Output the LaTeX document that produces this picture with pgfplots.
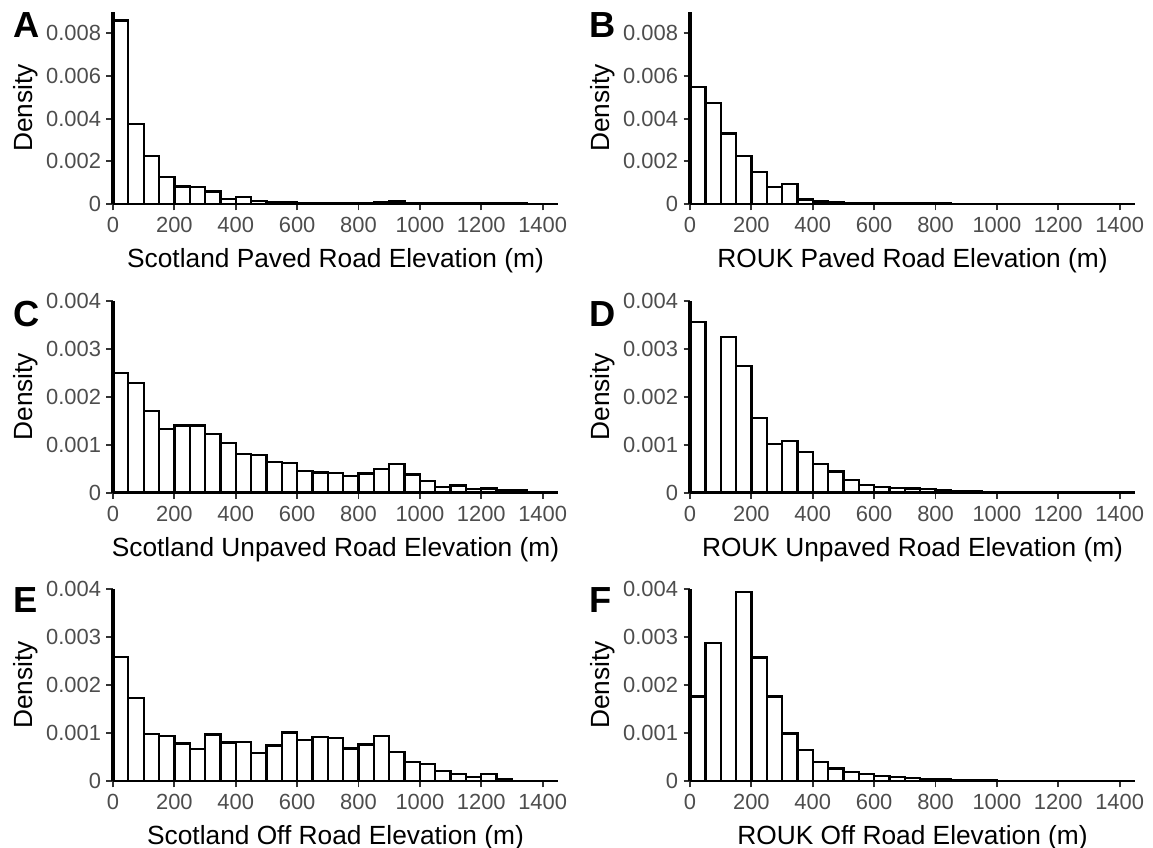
\documentclass[border=0pt]{standalone}
\usepackage{fontspec}
\setmainfont{Liberation Sans}
\usepackage{pgfplots}
\pgfplotsset{compat=1.18}
\definecolor{tickgray}{HTML}{4D4D4D}
\definecolor{tickmark}{HTML}{333333}
\pgfplotsset{
  hist/.style={
    scale only axis, width=445bp, height=192bp,
    xmin=0, xmax=1450, ymin=0,
    axis x line*=bottom, axis y line*=left,
    x axis line style={line width=2.6bp, black},
    y axis line style={line width=3.6bp, black},
    axis on top=true,
    tick align=outside, major tick length=6.5bp,
    every tick/.style={draw=tickmark, line width=1.8bp},
    xtick={0,200,400,600,800,1000,1200,1400},
    xticklabels={0,200,400,600,800,1000,1200,1400},
    ticklabel style={font=\fontsize{22}{25}\selectfont, text=tickgray},
    xticklabel style={yshift=-3bp},
    yticklabel style={xshift=-2bp},
    label style={font=\fontsize{26.4}{30}\selectfont, text=black},
    xlabel shift=9bp,
    ylabel shift=1bp,
    ylabel={Density},
    scaled ticks=false,
    /pgf/number format/assume math mode=true,
    clip=true,
  },
  hist1/.style={hist, ymax=0.009, ytick={0,0.002,0.004,0.006,0.008},
    yticklabels={0,0.002,0.004,0.006,0.008}},
  hist2/.style={hist, ymax=0.004, ytick={0,0.001,0.002,0.003,0.004},
    yticklabels={0,0.001,0.002,0.003,0.004}},
  bars/.style={ybar interval, fill=white, draw=black, line width=2.3bp},
}
\newcommand{\panellabel}[3]{\node[anchor=base west, inner sep=0pt, font=\fontsize{36.4}{40}\selectfont\bfseries] at (#1bp,#2bp) {#3};}
\begin{document}
\begin{tikzpicture}[x=1bp,y=1bp]
\path[use as bounding box] (0,0) rectangle (1153,848);
% A
\begin{axis}[hist1, at={(113bp,644bp)}, anchor=south west, xlabel={Scotland Paved Road Elevation (m)}]
\addplot[bars] coordinates {(0,0.0086) (50,0.00375) (100,0.00225) (150,0.00128) (200,0.00082) (250,0.00080) (300,0.00058) (350,0.00022) (400,0.00033) (450,0.00014) (500,0.00008) (550,0.00007) (600,0.00006) (650,0.00006) (700,0.00005) (750,0.00005) (800,0.00006) (850,0.00008) (900,0.00011) (950,0.00006) (1000,0.00005) (1050,0.00004) (1100,0.00004) (1150,0.00003) (1200,0.00003) (1250,0.00002) (1300,0.00002) (1350,0.00001) (1400,0)};
\end{axis}
% B
\begin{axis}[hist1, at={(690bp,644bp)}, anchor=south west, xlabel={ROUK Paved Road Elevation (m)}]
\addplot[bars] coordinates {(0,0.00547) (50,0.00475) (100,0.00331) (150,0.00225) (200,0.0015) (250,0.00078) (300,0.00094) (350,0.00021) (400,0.00012) (450,0.00009) (500,0.00006) (550,0.00005) (600,0.00004) (650,0.00003) (700,0.00003) (750,0.00002) (800,0.00002) (850,0.00001) (900,0.00001) (950,0.00001) (1000,0.00001) (1050,0.00001) (1100,0.00001) (1150,0.00001) (1200,0.00001) (1250,0.00001) (1300,0.00001) (1350,0.00001) (1400,0)};
\end{axis}
% C
\begin{axis}[hist2, at={(113bp,355.3bp)}, anchor=south west, xlabel={Scotland Unpaved Road Elevation (m)}]
\addplot[bars] coordinates {(0,0.0025) (50,0.00229) (100,0.0017) (150,0.00132) (200,0.0014) (250,0.0014) (300,0.00122) (350,0.00104) (400,0.00081) (450,0.00079) (500,0.00064) (550,0.00062) (600,0.00045) (650,0.00042) (700,0.00041) (750,0.00035) (800,0.0004) (850,0.00049) (900,0.0006) (950,0.00038) (1000,0.00024) (1050,0.000125) (1100,0.00015) (1150,0.00008) (1200,0.00009) (1250,0.00005) (1300,0.000055) (1350,0.000005) (1400,0)};
\end{axis}
% D
\begin{axis}[hist2, at={(690bp,355.3bp)}, anchor=south west, xlabel={ROUK Unpaved Road Elevation (m)}]
\addplot[bars] coordinates {(0,0.00355) (50,0) (100,0.00324) (150,0.00264) (200,0.00155) (250,0.00101) (300,0.00108) (350,0.00085) (400,0.0006) (450,0.00044) (500,0.00026) (550,0.00016) (600,0.00012) (650,0.0001) (700,0.00009) (750,0.00007) (800,0.00005) (850,0.000035) (900,0.00003) (950,0.00002) (1000,0.000015) (1050,0.00001) (1100,0.000005) (1150,0.000005) (1200,0.000005) (1250,0.000005) (1300,0.000005) (1350,0.000005) (1400,0)};
\end{axis}
% E
\begin{axis}[hist2, at={(113bp,67bp)}, anchor=south west, xlabel={Scotland Off Road Elevation (m)}]
\addplot[bars] coordinates {(-50,0.0036) (0,0.00258) (50,0.00173) (100,0.00098) (150,0.00094) (200,0.00078) (250,0.00066) (300,0.00097) (350,0.0008) (400,0.00081) (450,0.00059) (500,0.00074) (550,0.00101) (600,0.00085) (650,0.00091) (700,0.00089) (750,0.00068) (800,0.00076) (850,0.00094) (900,0.0006) (950,0.00039) (1000,0.00035) (1050,0.000215) (1100,0.00015) (1150,0.000083) (1200,0.00014) (1250,0.000035) (1300,0.000005) (1350,0.000003) (1400,0)};
\end{axis}
% F
\begin{axis}[hist2, at={(690bp,67bp)}, anchor=south west, xlabel={ROUK Off Road Elevation (m)}]
\addplot[bars] coordinates {(0,0.00176) (50,0.00287) (100,0) (150,0.00394) (200,0.00257) (250,0.00176) (300,0.00099) (350,0.00065) (400,0.0004) (450,0.00026) (500,0.00019) (550,0.00015) (600,0.00011) (650,0.00008) (700,0.00006) (750,0.00004) (800,0.00003) (850,0.00002) (900,0.000015) (950,0.00001) (1000,0.000005) (1050,0.000005) (1100,0.000005) (1150,0.000005) (1200,0.000005) (1250,0.000005) (1300,0.000005) (1350,0.000005) (1400,0)};
\end{axis}
\panellabel{13}{810}{A}
\panellabel{589}{810}{B}
\panellabel{13}{521}{C}
\panellabel{589}{521}{D}
\panellabel{13}{235}{E}
\panellabel{589}{235}{F}
\end{tikzpicture}
\end{document}
